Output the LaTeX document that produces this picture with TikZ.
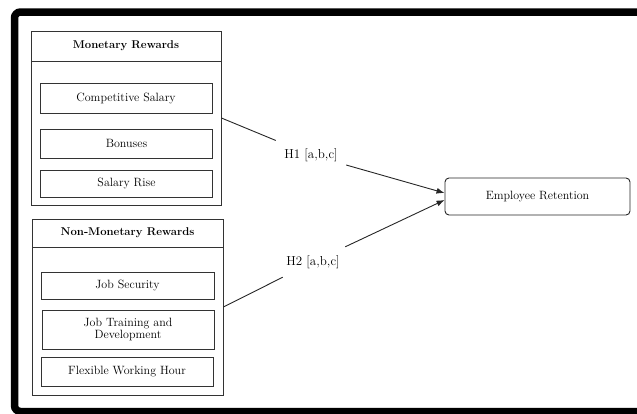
\documentclass[tikz,border=0pt]{standalone}
\usetikzlibrary{arrows.meta}
\newlength{\du}
\setlength{\du}{1pt}
\tikzset{
  group/.style={draw=black!80, line width=0.9\du, minimum width=#1, inner sep=0pt},
  headbox/.style={draw=black!80, line width=0.9\du, minimum width=190\du, inner sep=0pt, font=\fontsize{11.3}{13}\selectfont\bfseries},
  itembox/.style={draw=black!80, line width=0.8\du, minimum width=172\du, inner sep=0pt, align=center, font=\fontsize{12}{13.5}\selectfont},
  hyp/.style={minimum width=70\du, minimum height=30\du, inner sep=0pt, font=\fontsize{13}{15}\selectfont},
  link/.style={draw=black!85, line width=0.9\du},
  tip/.style={-{Latex[length=8pt,width=6pt]}}
}
\begin{document}
\begin{tikzpicture}
\pgftransformyscale{-1.000000}
\useasboundingbox (0\du,0\du) rectangle (637\du,413\du);
\clip (0\du,0\du) rectangle (637\du,413\du);
% outer frame
\draw[line width=7.5\du, rounded corners=6\du] (14.5\du,12\du) rectangle (660\du,411.5\du);
% monetary rewards
\node[group=190\du, minimum height=174\du] (mon) at (126\du,118\du){};
\node[headbox, minimum height=30\du] (monhead) at (126\du,46\du){Monetary Rewards};
\node[itembox, minimum height=30\du] (comp) at (126\du,98\du){Competitive Salary};
\node[itembox, minimum height=29\du] (bonus) at (126.5\du,143.5\du){Bonuses};
\node[itembox, minimum height=27\du] (rise) at (126.5\du,183.5\du){Salary Rise};
% non-monetary rewards
\node[group=191\du, minimum height=176\du] (nonmon) at (127.5\du,307\du){};
\node[headbox, minimum width=191\du, minimum height=28\du] (nonhead) at (127.5\du,233\du){Non-Monetary Rewards};
\node[itembox, minimum width=173\du, minimum height=27\du] (jobsec) at (127.5\du,285.5\du){Job Security};
\node[itembox, minimum height=39\du, text width=160\du] (train) at (128\du,329.5\du){Job Training and\\[-1.5\du]Development};
\node[itembox, minimum height=29\du] (flex) at (127\du,371.5\du){Flexible Working Hour};
% dependent variable
\node[draw=black!85, line width=0.9\du, rounded corners=4\du, minimum width=185\du, minimum height=37\du,
  font=\fontsize{12}{13.5}\selectfont] (ret) at (537.5\du,196.5\du){Employee Retention};
% hypotheses
\node[hyp] (h1) at (311\du,155\du){H1 [a,b,c]};
\node[hyp] (h2) at (313\du,262\du){H2 [a,b,c]};
\draw[link] (mon.east) -- (h1);
\draw[link,tip] (h1) -- ([yshift=-3.5\du]ret.west);
\draw[link] (nonmon.east) -- (h2);
\draw[link,tip] (h2) -- ([yshift=3.5\du]ret.west);
\end{tikzpicture}
\end{document}
